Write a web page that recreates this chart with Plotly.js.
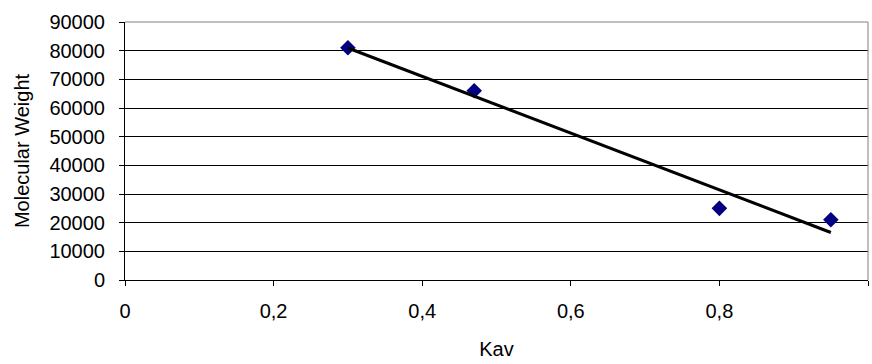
<!DOCTYPE html>
<html><head><meta charset="utf-8">
<script src="https://cdn.plot.ly/plotly-3.0.1.min.js"></script>
<style>html,body{margin:0;padding:0;background:#fff}#c{width:872px;height:364px}</style>
</head><body><div id="c"></div>
<script>
const kav = [0.3, 0.47, 0.8, 0.95];
const mw = [81000, 66000, 25000, 21000];
const xTicks = [0, 0.2, 0.4, 0.6, 0.8, 1];
const xTickLabels = ['0', '0,2', '0,4', '0,6', '0,8', '1'];
const yTicks = [0, 10000, 20000, 30000, 40000, 50000, 60000, 70000, 80000, 90000];

// linear trendline (least squares) from data
const n = kav.length;
const mx = kav.reduce((a,b)=>a+b,0)/n, my = mw.reduce((a,b)=>a+b,0)/n;
let sxy=0, sxx=0;
for (let i=0;i<n;i++){ sxy += (kav[i]-mx)*(mw[i]-my); sxx += (kav[i]-mx)**2; }
const slope = sxy/sxx, icpt = my - slope*mx;
const tx = [Math.min(...kav), Math.max(...kav)];
const ty = tx.map(v => icpt + slope*v);

const data = [
  {x: kav, y: mw, type:'scatter', mode:'markers',
   marker:{symbol:'diamond', color:'#000080', size:12}, hoverinfo:'none', cliponaxis:false},
  {x: tx, y: ty, type:'scatter', mode:'lines',
   line:{color:'#000000', width:3}, hoverinfo:'none'}
];
const font = {family:'Liberation Sans, Arial, sans-serif', size:20, color:'#000'};
const layout = {
  width:872, height:364, showlegend:false,
  margin:{l:125, r:4, t:22, b:84},
  paper_bgcolor:'#fff', plot_bgcolor:'#fff', font:font,
  separators:',.',
  xaxis:{range:[0,1], tickvals:xTicks, ticktext:xTickLabels, showgrid:false, zeroline:false,
    showline:true, linecolor:'#000', linewidth:1, ticks:'outside', ticklen:5, tickcolor:'#000',
    ticklabelstandoff:8, tickfont:font,
    title:{text:'Kav', font:font, standoff:20}, mirror:false},
  yaxis:{range:[0,90000], tickvals:yTicks, ticktext:yTicks.map(String), showgrid:true, gridcolor:'#000', gridwidth:1,
    zeroline:false, showline:true, linecolor:'#000', linewidth:1, ticks:'outside', ticklen:5, tickcolor:'#000',
    ticklabelstandoff:10, tickfont:font,
    title:{text:'Molecular Weight', font:font, standoff:14}},
  shapes:[
    {type:'line', xref:'paper', yref:'paper', x0:0, x1:1, y0:1, y1:1, line:{color:'#808080', width:1}},
    {type:'line', xref:'paper', yref:'paper', x0:1, x1:1, y0:0, y1:1, line:{color:'#808080', width:1}}
  ]
};
Plotly.newPlot('c', data, layout, {staticPlot:true, displayModeBar:false});
</script></body></html>
